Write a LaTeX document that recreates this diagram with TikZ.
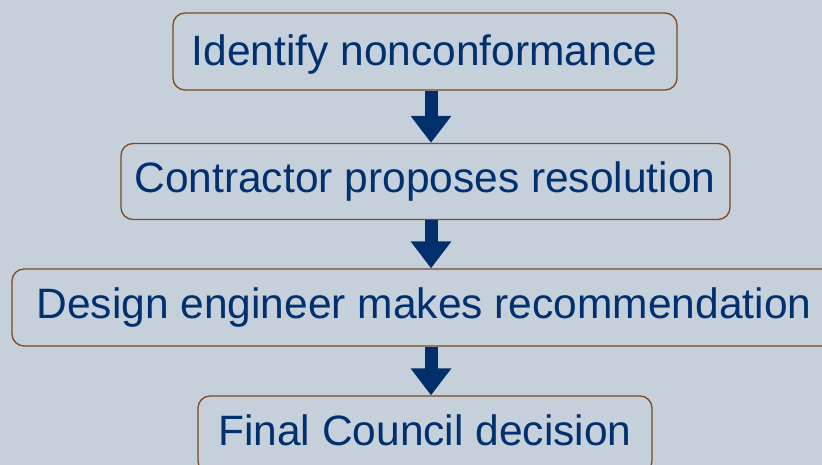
\documentclass[tikz,border=0pt]{standalone}
\usepackage{fontspec}
\setmainfont{Liberation Sans}
\usetikzlibrary{arrows.meta}
\definecolor{pagebg}{HTML}{C6D0DB}
\definecolor{stepline}{HTML}{7F4A1E}
\definecolor{steptext}{HTML}{003070}
\definecolor{flowblue}{HTML}{002F6C}
\tikzset{
  stepbox/.style={draw=stepline, line width=1.3pt, fill=pagebg, rounded corners=12pt,
    inner sep=0pt, anchor=center},
  steplabel/.style={text=steptext, font=\fontsize{42.5}{48}\selectfont, inner sep=0pt, anchor=base},
  flowarrow/.style={draw=flowblue, line width=13pt, line cap=butt,
    -{Triangle[width=39pt,length=27pt]}},
}
\begin{document}
\begin{tikzpicture}[x=1pt,y=-1pt]
  \useasboundingbox (0,0) rectangle (822,465);
  \clip (0,0) rectangle (822,465);
  \fill[pagebg] (0,0) rectangle (822,465);
  % process steps
  \node[stepbox, minimum width=504pt, minimum height=77pt] (s1) at (425,51.5) {};
  \node[stepbox, minimum width=609pt, minimum height=76pt] (s2) at (425.5,181.5) {};
  \node[stepbox, minimum width=826pt, minimum height=77pt] (s3) at (425,307.5) {};
  \node[stepbox, minimum width=454pt, minimum height=77pt] (s4) at (425,434.5) {};
  % step captions, placed on their baselines
  \node[steplabel] (t1) at (424.5,66) {Identify nonconformance};
  \node[steplabel] (t2) at (425,193) {Contractor proposes resolution};
  \node[steplabel] (t3) at (424,318) {Design engineer makes recommendation};
  \node[steplabel] (t4) at (425,445) {Final Council decision};
  % arrows between steps
  \coordinate (ax) at (431,0);
  \draw[flowarrow] (s1.south -| ax) -- (s2.north -| ax);
  \draw[flowarrow] (s2.south -| ax) -- (s3.north -| ax);
  \draw[flowarrow] (s3.south -| ax) -- (s4.north -| ax);
\end{tikzpicture}
\end{document}
